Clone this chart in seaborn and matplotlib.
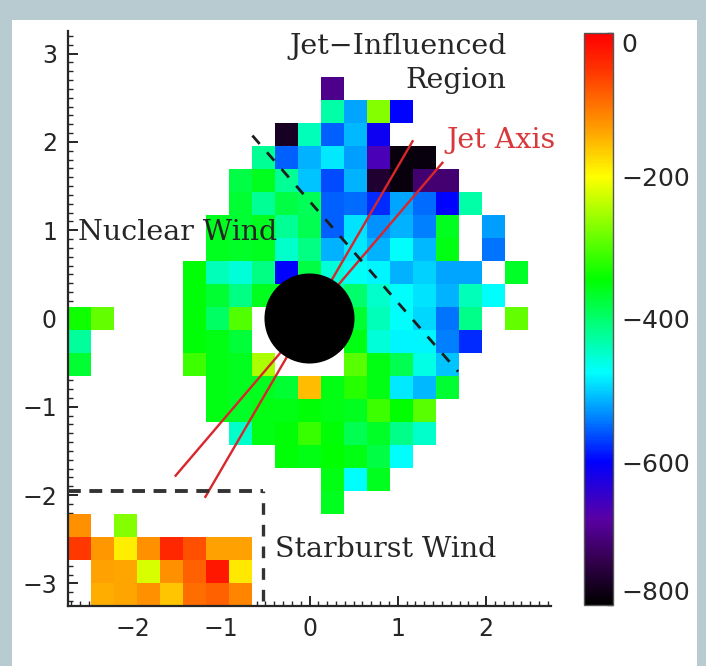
import numpy as np
import matplotlib
matplotlib.use("Agg")
import matplotlib.pyplot as plt
from matplotlib.colors import LinearSegmentedColormap
from matplotlib.patches import Circle, Rectangle
from matplotlib.transforms import Affine2D
from matplotlib.ticker import FixedLocator
import seaborn as sns

_ = np.nan
PIX = 0.2605         # arcsec per spaxel
N_COLS, N_ROWS = 21, 25

# Line-of-sight velocity (km/s) per spaxel, rows from top (north) to bottom
velocity = [
    [_, _, _, _, _, _, _, _, _, _, _, _, _, _, _, _, _, _, _, _, _],
    [_, _, _, _, _, _, _, _, _, _, _, _, _, _, _, _, _, _, _, _, _],
    [_, _, _, _, _, _, _, _, _, _, _, -700, _, _, _, _, _, _, _, _, _],
    [_, _, _, _, _, _, _, _, _, _, _, -430, -520, -270, -600, _, _, _, _, _, _],
    [_, _, _, _, _, _, _, _, _, -770, -440, -555, -510, -610, _, _, _, _, _, _, _],
    [_, _, _, _, _, _, _, _, -420, -555, -515, -485, -525, -665, -790, -790, _, _, _, _, _],
    [_, _, _, _, _, _, _, -380, -360, -420, -505, -565, -515, -760, -790, -715, -715, _, _, _, _],
    [_, _, _, _, _, _, _, -370, -420, -380, -390, -555, -550, -580, -520, -550, -600, -430, _, _, _],
    [_, _, _, _, _, _, -360, -370, -360, -420, -385, -555, -490, -530, -515, -540, -360, _, -525, _, _],
    [_, _, _, _, _, _, -360, -365, -360, -450, -410, -515, -485, -515, -475, -510, -355, _, -545, _, _],
    [_, _, _, _, _, -350, -440, -455, -410, -600, -380, -455, -470, -480, -515, -500, -520, -520, _, -365, _],
    [_, _, _, _, _, -350, -370, -410, -360, -360, -400, -430, -400, -450, -475, -490, -515, -440, -475, _, _],
    [-335, -290, _, _, _, -350, -395, -300, _, -400, -400, -420, -370, -440, -475, -495, -545, -415, _, -290, _],
    [-425, _, _, _, _, -350, -355, -375, _, _, -400, _, -355, -455, -480, -480, -540, -580, _, _, _],
    [-370, _, _, _, _, -310, -355, -360, -250, _, _, _, -295, -355, -385, -460, -505, _, _, _, _],
    [_, _, _, _, _, _, -355, -360, -360, -370, -155, -355, -325, -355, -485, -510, -370, _, _, _, _],
    [_, _, _, _, _, _, -355, -365, -355, -355, -350, -355, -360, -310, -345, -295, _, _, _, _, _],
    [_, _, _, _, _, _, _, -450, -355, -350, -315, -350, -385, -365, -415, -450, _, _, _, _, _],
    [_, _, _, _, _, _, _, _, _, -350, -355, -345, -355, -380, -475, _, _, _, _, _, _],
    [_, _, _, _, _, _, _, _, _, _, _, -355, -475, -360, _, _, _, _, _, _, _],
    [_, _, _, _, _, _, _, _, _, _, _, -360, _, _, _, _, _, _, _, _, _],
    [-125, _, -270, _, _, _, _, _, _, _, _, _, _, _, _, _, _, _, _, _, _],
    [-55, -130, -190, -125, -40, -75, -135, -135, _, _, _, _, _, _, _, _, _, _, _, _, _],
    [_, -135, -140, -225, -125, -85, -25, -185, _, _, _, _, _, _, _, _, _, _, _, _, _],
    [_, -145, -140, -125, -160, -95, -85, -115, _, _, _, _, _, _, _, _, _, _, _, _, _],
]

x_ticks = [-2, -1, 0, 1, 2]
y_ticks = [-3, -2, -1, 0, 1, 2, 3]
cbar_ticks = [0, -200, -400, -600, -800]
cbar_minor = [-100, -300, -500, -700]

# Jet axis cone (two edges through the nucleus), arcsec
jet_x = [[-1.525, 1.514], [-1.186, 1.174]]
jet_y = [[-1.790, 1.774], [-2.031, 2.019]]
# Perpendicular to the jet
perp_x = [-0.647, 1.683]
perp_y = [2.072, -0.602]
# Starburst-wind box edges
box_top_y = -1.951
box_right_x = -0.526
nucleus_radius = 0.51

# Rainbow velocity scale
cmap = LinearSegmentedColormap.from_list("vel", [
    (0.000, (0.0, 0.0, 0.0)),
    (0.075, (0.20, 0.0, 0.30)),
    (0.150, (0.35, 0.0, 0.65)),
    (0.250, (0.0, 0.0, 1.0)),
    (0.325, (0.0, 0.5, 1.0)),
    (0.406, (0.0, 1.0, 1.0)),
    (0.488, (0.0, 1.0, 0.5)),
    (0.569, (0.0, 1.0, 0.0)),
    (0.750, (1.0, 1.0, 0.0)),
    (0.838, (1.0, 0.6, 0.0)),
    (0.938, (1.0, 0.2, 0.0)),
    (1.000, (1.0, 0.0, 0.0)),
])

sns.set_style("white")
plt.rcParams["font.family"] = ["DejaVu Sans"]
INK = "#262626"
W, H = 706, 666

fig = plt.figure(figsize=(W / 100, H / 100), dpi=100)
fig.patch.set_facecolor("#b7cbd0")
fig.add_artist(Rectangle((12 / W, 0), 1 - 21 / W, 1 - 20 / H, transform=fig.transFigure,
                         facecolor="white", edgecolor="none", zorder=-10))

ax = fig.add_axes([68 / W, 60 / H, 483 / W, 575 / H])
cax = fig.add_axes([584 / W, 61 / H, 29 / W, 572 / H])

sns.heatmap(np.array(velocity, dtype=float), ax=ax, cmap=cmap, vmin=-800, vmax=0,
            cbar_ax=cax, square=True, xticklabels=False, yticklabels=False,
            linewidths=0)
ax.set_facecolor("white")


def col_of(x):
    return np.asarray(x) / PIX + N_COLS / 2


def row_of(y):
    return N_ROWS / 2 - np.asarray(y) / PIX


# arcsec -> heatmap cell coordinates
sky = Affine2D().scale(1 / PIX, -1 / PIX).translate(N_COLS / 2, N_ROWS / 2) + ax.transData

for xs, ys in zip(jet_x, jet_y):
    ax.plot(xs, ys, color="#d8262a", lw=1.7, transform=sky, zorder=3, solid_capstyle="butt")
ax.plot(perp_x, perp_y, color="#1e1e1e", lw=2.0, ls=(0, (4, 4)), transform=sky, zorder=3)
ax.plot([-N_COLS * PIX / 2, box_right_x], [box_top_y, box_top_y], color="#333333",
        lw=2.8, ls=(0, (3.3, 2.2)), transform=sky, zorder=3)
ax.plot([box_right_x, box_right_x], [box_top_y, -N_ROWS * PIX / 2], color="#333333",
        lw=2.4, ls=(3, (3.5, 3.0)), transform=sky, zorder=3)
ax.add_patch(Circle((0, 0), nucleus_radius, facecolor="black", edgecolor="none",
                    transform=sky, zorder=4))

serif = dict(family="DejaVu Serif", fontsize=20.5, color=INK, zorder=5)
ax.text(2.234, 3.083, "Jet\u2212Influenced", ha="right", va="center", transform=sky, **serif)
ax.text(2.234, 2.698, "Region", ha="right", va="center", transform=sky, **serif)
ax.text(-2.62, 0.979, "Nuclear Wind", ha="left", va="center", transform=sky, **serif)
ax.text(-0.39, -2.62, "Starburst Wind", ha="left", va="center", transform=sky, **serif)
ax.text(1.555, 2.019, "Jet Axis", ha="left", va="center", transform=sky,
        **{**serif, "color": "#d8383a"})


def fmt(v):
    return f"{v}".replace("-", "\u2212")


ax.set_xlim(0, N_COLS)
ax.set_ylim(N_ROWS, 0)
ax.set_xticks(col_of(x_ticks))
ax.set_xticklabels([fmt(v) for v in x_ticks])
ax.set_yticks(row_of(y_ticks))
ax.set_yticklabels([fmt(v) for v in y_ticks], rotation=0)
ax.xaxis.set_minor_locator(FixedLocator(col_of(np.arange(-27, 28) / 10)))
ax.yaxis.set_minor_locator(FixedLocator(row_of(np.arange(-32, 33) / 10)))
ax.tick_params(which="both", direction="in", bottom=True, left=True, top=False, right=False,
               color=INK, labelcolor=INK, labelsize=17)
ax.tick_params(which="major", length=7, width=1.4, pad=8)
ax.tick_params(which="minor", length=3.5, width=1.0)
for side in ("left", "bottom"):
    ax.spines[side].set_visible(True)
    ax.spines[side].set_color(INK)
    ax.spines[side].set_linewidth(1.6)
for side in ("top", "right"):
    ax.spines[side].set_visible(False)

cb = ax.collections[0].colorbar
cb.set_ticks(cbar_ticks)
cb.set_ticklabels([fmt(v) for v in cbar_ticks])
cb.ax.yaxis.set_minor_locator(FixedLocator(cbar_minor))
cb.ax.tick_params(which="both", direction="in", right=True, left=False, length=4, width=1.0,
                  color="#333333", labelcolor=INK, labelsize=18, pad=6)
cb.outline.set_linewidth(1.0)
cb.outline.set_edgecolor("#555555")
labels = cb.ax.get_yticklabels()
labels[0].set_verticalalignment("top")
labels[-1].set_verticalalignment("bottom")

fig.savefig("out.png", dpi=100, facecolor=fig.get_facecolor())
